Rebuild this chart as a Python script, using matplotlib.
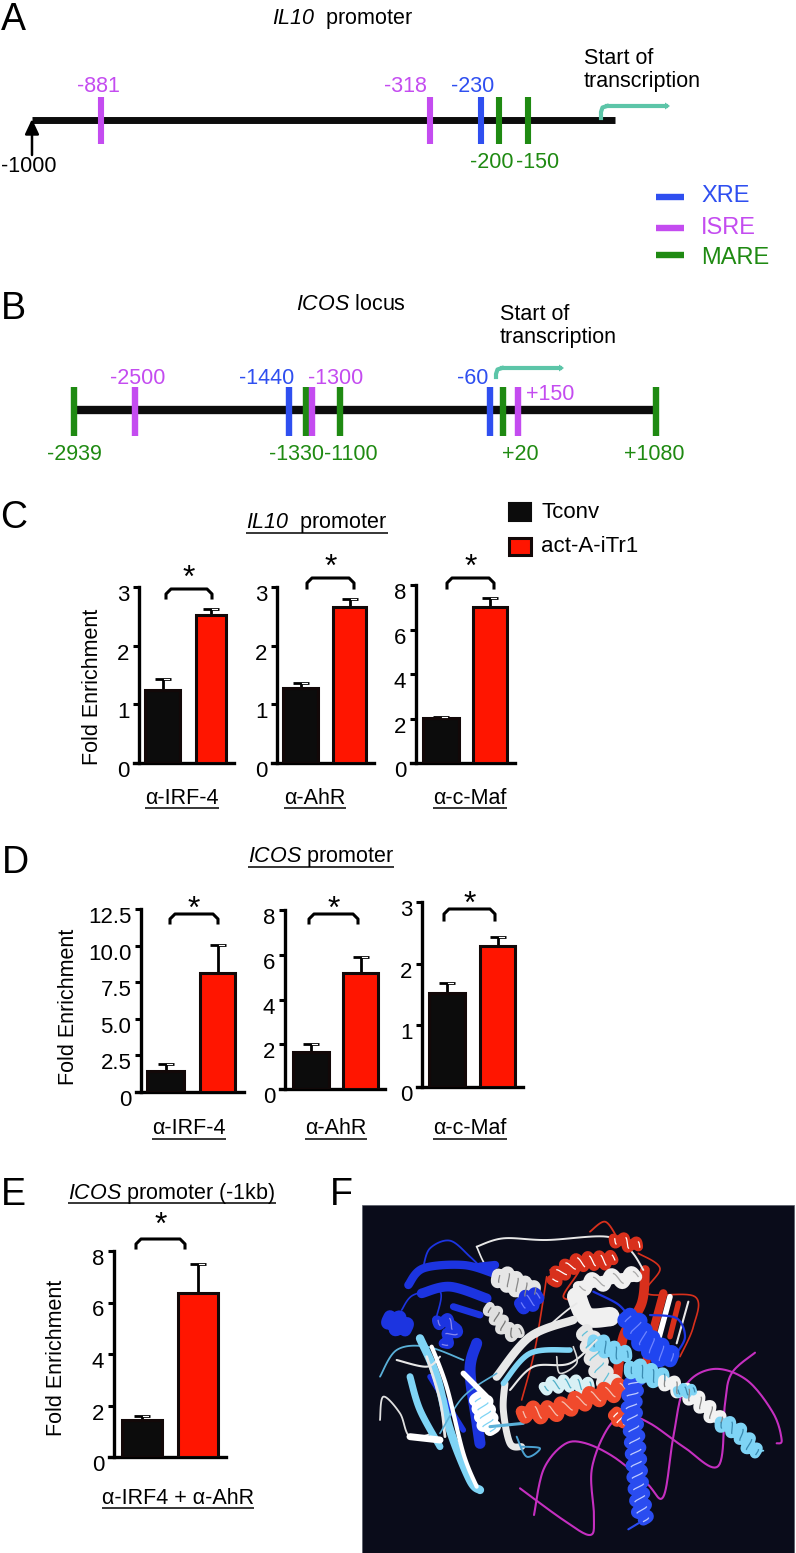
import numpy as np
import matplotlib
matplotlib.use("Agg")
import matplotlib.pyplot as plt
from matplotlib.patches import Rectangle, FancyArrow
from matplotlib.transforms import ScaledTranslation

plt.rcParams["font.family"] = ["Liberation Sans", "DejaVu Sans"]
# digits stay upright in \mathit, so \mathrm is pointed at the italic face for gene names
plt.rcParams["mathtext.fontset"] = "custom"
plt.rcParams["mathtext.rm"] = "Liberation Sans:italic"
plt.rcParams["mathtext.it"] = "Liberation Sans:italic"

BLUE = "#2f4ff0"
PURPLE = "#c44cf0"
GREEN = "#1f8a12"
TEAL = "#5cc5a8"
RED = "#ff1500"
INK = "#0c0c0c"

# panel A sites
il10_pos = [-881, -318, -230, -200, -150]
il10_col = [PURPLE, PURPLE, BLUE, GREEN, GREEN]
il10_lab = ["-881", "-318", "-230", "-200", "-150"]

# panel B sites
icos_pos = [-2939, -2500, -1440, -1330, -1300, -1100, -60, 20, 150, 1080]
icos_col = [GREEN, PURPLE, BLUE, GREEN, PURPLE, GREEN, BLUE, GREEN, PURPLE, GREEN]
icos_lab = ["-2939", "-2500", "-1440", "-1330", "-1300", "-1100", "-60", "+20", "+150", "+1080"]

# fold enrichment, [Tconv, act-A-iTr1]
c_irf4 = [1.25, 2.52]
c_irf4_err = [0.18, 0.11]
c_ahr = [1.28, 2.66]
c_ahr_err = [0.08, 0.13]
c_maf = [2.03, 7.0]
c_maf_err = [0.05, 0.4]
d_irf4 = [1.46, 8.16]
d_irf4_err = [0.42, 1.85]
d_ahr = [1.67, 5.2]
d_ahr_err = [0.35, 0.68]
d_maf = [1.52, 2.28]
d_maf_err = [0.17, 0.15]
e_mix = [1.45, 6.38]
e_mix_err = [0.13, 1.1]

fig = plt.figure(figsize=(7.96, 15.53), dpi=100, facecolor="white")
W, H = 796, 1553

# everything that is not a bar chart is placed in pixels on this layer
ov = fig.add_axes([0, 0, 1, 1], zorder=5)
ov.set_xlim(0, W)
ov.set_ylim(H, 0)
ov.axis("off")
ov.patch.set_alpha(0)


def txt(x, y, s, color="black", size=15.5, ha="center", **kw):
    return ov.text(x, y, s, color=color, fontsize=size, ha=ha, va="center", **kw)


def under(x, y, s, gap=9.5, size=15.5):
    t = txt(x, y, s, size=size)
    bb = t.get_window_extent(fig.canvas.get_renderer())
    ov.plot([bb.x0, bb.x1], [y + gap, y + gap], color="black", lw=1.1, solid_capstyle="butt")


def start_arrow(x, y0, y1, x1):
    ov.plot([x, x, x + 1.5, x + 6], [y0, y1 + 6, y1 + 1.5, y1], color=TEAL, lw=3, solid_joinstyle="round")
    ov.plot([x + 6, x1 - 4], [y1, y1], color=TEAL, lw=3)
    ov.add_patch(FancyArrow(x1 - 5, y1, 5, 0, width=0, head_width=7, head_length=5,
                            length_includes_head=True, color=TEAL, lw=0))


def bracket(x0, x1, y0, y1, star_y):
    r = 5
    ov.plot([x0, x0, x0 + r, x1 - r, x1, x1], [y1, y0 + r, y0, y0, y0 + r, y1],
            color="black", lw=2.2, solid_joinstyle="round")
    ov.text((x0 + x1) / 2, star_y + 3, "*", fontsize=23, ha="center", va="center", color="black")


# panel letters
for letter, lx, ly in [("A", 13, 20), ("B", 13, 309), ("C", 14, 518), ("D", 15, 863), ("E", 13, 1195), ("F", 341, 1195)]:
    txt(lx, ly, letter, size=27)

# ---- A
txt(343, 19, r"$\mathrm{IL10}$  promoter")
il10_x = np.interp(il10_pos, [-1000, -150], [32, 528])
ov.plot([32, 615], [120, 120], color=INK, lw=5, solid_capstyle="butt", zorder=2)
for xx, cc in zip(il10_x, il10_col):
    ov.plot([xx, xx], [97, 144], color=cc, lw=4.4, solid_capstyle="butt", zorder=3)
for xx, ll, cc, (tx, ty) in zip(il10_x, il10_lab, il10_col, [(98, 87), (405, 87), (473, 87), (492, 162), (538, 162)]):
    txt(tx, ty, ll, color=cc)
ov.annotate("", xy=(32, 119), xytext=(32, 155), arrowprops=dict(arrowstyle="-|>,head_width=0.42,head_length=0.9", color="black", lw=1.8, shrinkA=0, shrinkB=0), zorder=4)
txt(29, 166, "-1000")
txt(584, 58, "Start of", ha="left")
txt(584, 82, "transcription", ha="left")
start_arrow(601, 118, 106, 670)
for name, cc, ly, ty in [("XRE", BLUE, 197, 196), ("ISRE", PURPLE, 228, 228), ("MARE", GREEN, 255, 258)]:
    ov.plot([656, 684], [ly, ly], color=cc, lw=4.6, solid_capstyle="butt")
    txt(701, ty, name, color=cc, size=17, ha="left")

# ---- B
txt(351, 305, r"$\mathrm{ICOS}$ locus")
icos_x = [74, 135, 289, 306, 312, 340, 490, 503, 518, 656]
ov.plot([74, 656], [410, 410], color=INK, lw=6, solid_capstyle="butt", zorder=2)
for xx, cc in zip(icos_x, icos_col):
    ov.plot([xx, xx], [387, 436], color=cc, lw=4.6, solid_capstyle="butt", zorder=3)
icos_txt = [(74, 454), (138, 378), (267, 378), (296, 454), (336, 378), (351, 454), (473, 378), (520, 454), (550, 394), (654, 454)]
for ll, cc, (tx, ty) in zip(icos_lab, icos_col, icos_txt):
    txt(tx, ty, ll, color=cc)
txt(500, 314, "Start of", ha="left")
txt(500, 338, "transcription", ha="left")
start_arrow(496, 377, 368, 564)


def bars(x_axis, x_end, y_top, y_base, ymax, ticks, ticklabs, vals, errs, black_x, red_x):
    ax = fig.add_axes([x_axis / W, 1 - y_base / H, (x_end - x_axis) / W, (y_base - y_top) / H])
    ax.set_xlim(0, x_end - x_axis)
    ax.set_ylim(0, ymax)
    lefts = [black_x[0] - x_axis, red_x[0] - x_axis]
    widths = [black_x[1] - black_x[0], red_x[1] - red_x[0]]
    centers = [l + w / 2 for l, w in zip(lefts, widths)]
    ax.errorbar(centers, vals, yerr=[[0, 0], errs], fmt="none", ecolor="black",
                elinewidth=2, capsize=6, capthick=2, zorder=2)
    ax.bar(lefts, vals, widths, align="edge", color=[INK, RED], edgecolor="#120808", linewidth=2.2, zorder=3)
    # the little white glint on each cap
    for cx, v, e in zip(centers, vals, errs):
        ax.plot([cx + 1, cx + 6], [v + e, v + e], color="white", lw=0.8, zorder=4)
    ax.set_yticks(ticks)
    ax.set_yticklabels(ticklabs, fontsize=16)
    ax.set_xticks([])
    ax.tick_params(axis="y", length=4, width=2.2, pad=3)
    for s in ["top", "right"]:
        ax.spines[s].set_visible(False)
    ax.spines["left"].set_linewidth(2.4)
    ax.spines["bottom"].set_linewidth(2.4)
    ax.spines["bottom"].set_bounds(-5, x_end - x_axis)
    ax.spines["bottom"].set_clip_on(False)
    shift = ScaledTranslation(0, -6 / 100, fig.dpi_scale_trans)
    for lab in ax.get_yticklabels():
        lab.set_transform(lab.get_transform() + shift)
    ax.patch.set_alpha(0)
    return ax


# ---- C
under(317, 523, r"$\mathrm{IL10}$  promoter")
ov.add_patch(Rectangle((509, 503), 22, 18, facecolor=INK, edgecolor=INK, lw=1.5))
ov.add_patch(Rectangle((509, 538), 22, 17, facecolor=RED, edgecolor="#120808", lw=2.2))
txt(541, 512, "Tconv", ha="left", size=16)
txt(541, 546, "act-A-iTr1", ha="left", size=16)
bars(139, 234, 587, 763, 3, [0, 1, 2, 3], ["0", "1", "2", "3"], c_irf4, c_irf4_err, (145, 180), (196, 226))
bars(277, 374, 587, 763, 3, [0, 1, 2, 3], ["0", "1", "2", "3"], c_ahr, c_ahr_err, (283, 318), (333, 366))
bars(416, 515, 585, 763, 8, [0, 2, 4, 6, 8], ["0", "2", "4", "6", "8"], c_maf, c_maf_err, (423, 459), (473, 507))
bracket(166, 212, 589, 598, 576)
bracket(307, 354, 578, 588, 565)
bracket(447, 494, 578, 588, 565)
for xx, ll in zip([182, 315, 470], ["α-IRF-4", "α-AhR", "α-c-Maf"]):
    under(xx, 798, ll)
txt(92, 687, "Fold Enrichment", rotation=90)

# ---- D
under(321, 857, r"$\mathrm{ICOS}$ promoter")
bars(141, 244, 909, 1092, 12.5, [0, 2.5, 5, 7.5, 10, 12.5], ["0", "2.5", "5.0", "7.5", "10.0", "12.5"], d_irf4, d_irf4_err, (147, 184), (200, 235))
bars(285, 385, 910, 1089, 8, [0, 2, 4, 6, 8], ["0", "2", "4", "6", "8"], d_ahr, d_ahr_err, (293, 329), (343, 378))
bars(422, 523, 902, 1087, 3, [0, 1, 2, 3], ["0", "1", "2", "3"], d_maf, d_maf_err, (429, 465), (480, 515))
bracket(170, 218, 914, 923, 907)
bracket(309, 358, 914, 923, 907)
bracket(444, 495, 909, 920, 902)
for xx, ll in zip([189, 336, 470], ["α-IRF-4", "α-AhR", "α-c-Maf"]):
    under(xx, 1129, ll)
txt(69, 1007, "Fold Enrichment", rotation=90)

# ---- E
under(172, 1193, r"$\mathrm{ICOS}$ promoter (-1kb)")
bars(114, 226, 1251, 1457, 8, [0, 2, 4, 6, 8], ["0", "2", "4", "6", "8"], e_mix, e_mix_err, (122, 162), (178, 218))
bracket(136, 185, 1239, 1248, 1223)
under(178, 1498, "α-IRF4 + α-AhR")
txt(57, 1358, "Fold Enrichment", rotation=90)

# ---- F, ribbon sketch of the structure; paths are in crop pixels of the panel
ov.add_patch(Rectangle((362, 1205), 432, 348, facecolor="#0a0c1a", edgecolor="#555a66", lw=0.5))


def to_px(pts):
    pts = np.array(pts, dtype=float)
    return pts[:, 0] / 3 + 330, pts[:, 1] / 3 + 1170


def smooth(x, y, n=14):
    # catmull-rom through the given points
    p = np.column_stack([x, y])
    p = np.vstack([p[0], p, p[-1]])
    out = []
    for i in range(1, len(p) - 2):
        for t in np.linspace(0, 1, n, endpoint=False):
            out.append(0.5 * (2 * p[i] + (p[i + 1] - p[i - 1]) * t
                              + (2 * p[i - 1] - 5 * p[i] + 4 * p[i + 1] - p[i + 2]) * t ** 2
                              + (3 * p[i] - p[i - 1] - 3 * p[i + 1] + p[i + 2]) * t ** 3))
    out.append(p[-2])
    out = np.array(out)
    return out[:, 0], out[:, 1]


def ribbon(pts, color, lw=1.2, z=6):
    x, y = smooth(*to_px(pts))
    ov.plot(x, y, color=color, lw=lw, solid_capstyle="round", solid_joinstyle="round", zorder=z)


def helix(pts, color, second="white", lw=9, turns=6, z=7):
    # a coil: sine wound round the smoothed axis, thin second colour on the edge of each turn
    x, y = smooth(*to_px(pts))
    s = np.concatenate([[0], np.cumsum(np.hypot(np.diff(x), np.diff(y)))])
    u = np.linspace(0, s[-1], 240)
    ax_x, ax_y = np.interp(u, s, x), np.interp(u, s, y)
    dx, dy = np.gradient(ax_x), np.gradient(ax_y)
    d = np.hypot(dx, dy) + 1e-6
    nx, ny = -dy / d, dx / d
    phase = 2 * np.pi * turns * u / s[-1]
    amp = lw * 0.42
    cx, cy = ax_x + nx * amp * np.sin(phase), ax_y + ny * amp * np.sin(phase)
    ov.plot(ax_x, ax_y, color=color, lw=lw * 0.55, solid_capstyle="round", zorder=z)
    ov.plot(cx, cy, color=color, lw=lw * 0.62, solid_capstyle="round", zorder=z + 0.1)
    ex, ey = cx.copy(), cy.copy()
    hide = np.cos(phase) < 0.2
    ex[hide] = np.nan
    ey[hide] = np.nan
    ov.plot(ex + dx / d * 1.5, ey + dy / d * 1.5, color=second, lw=0.9, zorder=z + 0.2)


DBLUE = "#1c34e0"
SKY = "#7fd4f5"
ORANGE = "#f04a2c"
DRED = "#d8301c"

# DNA backbone
ribbon([(570, 955), (700, 1050), (780, 1095), (792, 1040), (785, 900), (830, 780), (885, 735), (960, 760), (1060, 830), (1165, 888), (1185, 700), (1205, 610), (1275, 548)], "#c52fc0", 1.5, 6)
ribbon([(612, 1035), (640, 900), (700, 825), (760, 818), (850, 860), (950, 940), (1000, 980), (1030, 800), (1065, 650), (1150, 597), (1250, 630), (1330, 730), (1355, 810), (1340, 820)], "#c52fc0", 1.5, 6)

# red domain, upper right
ribbon([(780, 185), (825, 155), (860, 200)], DRED, 1.3, 6)
ribbon([(925, 250), (990, 295), (950, 370), (1095, 380), (1090, 470), (1050, 560)], DRED, 1.2, 6)
ribbon([(945, 300), (935, 400), (880, 500), (860, 640)], DRED, 7, 6)
ribbon([(650, 320), (630, 450), (610, 560), (575, 690)], DRED, 1.2, 6)
ribbon([(1000, 370), (960, 520), (945, 600)], DRED, 6, 6)
ribbon([(1020, 380), (985, 510)], "white", 4, 7)
ribbon([(1045, 400), (1020, 500)], DRED, 4, 6)
ribbon([(1075, 395), (1040, 520)], "#e8e8e8", 1.5, 7)
ribbon([(660, 300), (750, 290), (700, 380), (760, 385)], DRED, 1.3, 6)
helix([(665, 330), (740, 280), (850, 270)], DRED, "white", 12, 6)
helix([(850, 205), (925, 230)], DRED, "white", 11, 2)

# white helices and loops in the middle
ribbon([(440, 230), (470, 290), (520, 320)], "#e8e8e8", 1.2, 6)
ribbon([(440, 230), (520, 205), (650, 210), (830, 200), (900, 240), (940, 300)], "#e8e8e8", 1.4, 6)
helix([(505, 315), (610, 370)], "#e6e6e6", "#888888", 15, 4)
helix([(480, 410), (530, 480), (570, 490)], "#e0e0e0", "#777777", 11, 4)
helix([(745, 350), (830, 330), (920, 320)], "#f0f0f0", "#aaaaaa", 13, 3)
ribbon([(740, 380), (770, 440), (840, 440)], "#f0f0f0", 14, 7)
ribbon([(500, 620), (600, 500), (730, 450)], "#e8e8e8", 6, 7)
ribbon([(620, 500), (700, 430), (740, 400)], "#e8e8e8", 1.3, 7)
ribbon([(520, 640), (600, 550), (720, 540)], SKY, 4, 8)
ribbon([(540, 660), (610, 590), (720, 580), (800, 510)], "#e8e8e8", 1.5, 8)
ribbon([(525, 640), (520, 720), (540, 820), (575, 830)], "#e8e8e8", 5, 7)
ribbon([(575, 830), (630, 835), (590, 860), (560, 800)], "#4aa0d0", 1.4, 7)
ribbon([(680, 560), (690, 610), (740, 580), (730, 530)], "#d8d8d8", 1.2, 8)
helix([(770, 480), (810, 600), (850, 650)], "#e6e6e6", "#60c0d8", 14, 5)
helix([(790, 510), (850, 545), (890, 560)], SKY, "#3a8ab0", 13, 3)

# dark blue domain, upper left
ribbon([(235, 345), (280, 295), (400, 285), (490, 310)], DBLUE, 6, 7)
ribbon([(275, 370), (360, 350), (470, 385)], DBLUE, 7, 7)
ribbon([(280, 290), (300, 235), (360, 212), (420, 260), (460, 300)], DBLUE, 1.3, 6)
ribbon([(215, 420), (250, 375), (330, 365), (320, 440)], DBLUE, 1.2, 6)
ribbon([(370, 410), (450, 435)], DBLUE, 5, 7)
ribbon([(450, 290), (495, 285)], DBLUE, 6, 7)
helix([(180, 440), (225, 480)], DBLUE, DBLUE, 15, 2)
helix([(320, 450), (375, 470), (340, 520)], DBLUE, "#8888ee", 11, 3)
helix([(570, 400), (625, 385)], DBLUE, "#6f7fff", 14, 2)
ribbon([(440, 520), (420, 600), (440, 750), (450, 820)], DBLUE, 8, 6)
ribbon([(300, 620), (350, 700), (400, 780)], DBLUE, 4, 6)

# light blue and white sheets, lower left
ribbon([(270, 505), (320, 620), (360, 780), (420, 930), (450, 960)], SKY, 6, 8)
ribbon([(305, 530), (350, 650), (400, 850), (440, 950)], "white", 3, 9)
ribbon([(240, 620), (270, 720), (330, 830)], SKY, 5, 8)
ribbon([(290, 560), (330, 690), (345, 800)], "#e8e8e8", 2, 8)
ribbon([(150, 620), (200, 540), (290, 530), (400, 570)], "#5ab0d8", 1.3, 7)
ribbon([(200, 570), (290, 590), (330, 560)], "#e8e8e8", 1.5, 8)
ribbon([(150, 750), (160, 680), (210, 730), (240, 800), (310, 790)], "#e0e0e0", 1.3, 7)
ribbon([(240, 800), (330, 810)], "white", 5, 8)
ribbon([(330, 790), (400, 680), (500, 610)], "#5ab0d8", 1.2, 8)
helix([(450, 680), (480, 780)], "white", SKY, 14, 4)
ribbon([(400, 610), (470, 680)], "white", 4, 8)
ribbon([(480, 770), (580, 760)], "#5ab0d8", 2.2, 8)

# long helices in front
helix([(640, 650), (720, 640), (780, 650)], "#d8f0f5", "#50b0c8", 11, 4, 9)
helix([(575, 725), (660, 725), (760, 690), (880, 655)], ORANGE, "#f5c0b0", 14, 7, 10)
helix([(860, 725), (880, 760)], ORANGE, "white", 12, 2, 10)
helix([(900, 435), (935, 500), (1020, 570)], "#1f45f0", "#6f85ff", 17, 5, 11)
ribbon([(790, 365), (860, 400), (890, 430)], DBLUE, 1.6, 11)
ribbon([(960, 435), (1040, 445), (1065, 500), (1040, 550)], DBLUE, 1.6, 11)
helix([(920, 600), (905, 700), (915, 820), (925, 950), (940, 1050)], "#2a4cf0", "#c0ccff", 13, 13, 11)
ribbon([(925, 1060), (895, 1078)], "#2a4cf0", 1.5, 11)
helix([(900, 590), (1000, 630)], SKY, "#3a8ab0", 14, 3, 12)
helix([(1000, 630), (1100, 690), (1170, 755)], "#f2f2f2", "#888888", 12, 5, 12)
helix([(1040, 660), (1090, 665)], SKY, "#3a8ab0", 9, 2, 12)
helix([(1170, 755), (1230, 790), (1275, 850)], SKY, "#3a8ab0", 12, 4, 12)
ribbon([(1265, 845), (1300, 842)], SKY, 1.3, 12)

fig.savefig("out.png", dpi=100)
